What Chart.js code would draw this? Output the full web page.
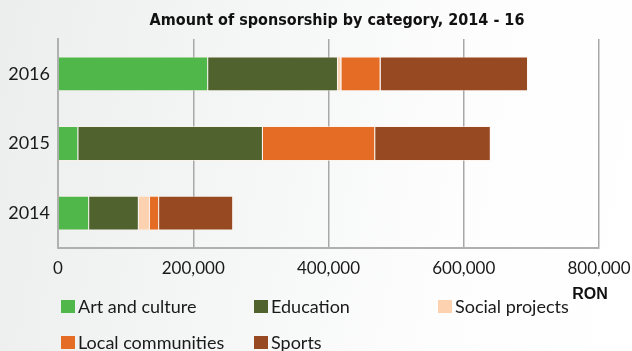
<!DOCTYPE html>
<html>
<head>
<meta charset="utf-8">
<script src="https://cdn.jsdelivr.net/npm/chart.js@4.4.1/dist/chart.umd.min.js"></script>
<style>
  html, body { margin: 0; padding: 0; }
  body {
    width: 632px; height: 351px; overflow: hidden; position: relative;
    background: linear-gradient(100deg, #eceeee 0%, #f4f5f5 35%, #fdfdfd 70%, #ffffff 100%);
    font-family: "Lato", "Liberation Sans", sans-serif;
    color: #1a1a1a;
  }
  #chart { position: absolute; left: 0; top: 0; }
  #title {
    position: absolute; left: 337px; top: 10px; transform: translateX(-50%);
    white-space: nowrap; font-family: "Liberation Sans Narrow", "DejaVu Sans Condensed", sans-serif;
    font-weight: bold; font-size: 16px; color: #111;
  }
  #unit {
    position: absolute; left: 590px; top: 285px; transform: translateX(-50%);
    font-family: "Liberation Sans", sans-serif; font-weight: bold; font-size: 16px; color: #111;
  }
  .item { position: absolute; white-space: nowrap; font-size: 18px; line-height: 20px; }
  .item .box { position: absolute; left: 0; top: 3px; width: 14px; height: 13px; }
  .item .lbl { position: absolute; left: 17px; top: -1px; }
</style>
</head>
<body>
<canvas id="chart" width="632" height="351"></canvas>
<div id="title">Amount of sponsorship by category, 2014 - 16</div>
<div id="unit">RON</div>
<div id="legend"></div>
<script>
// Sponsorship amounts in RON, per year (top row is 2016)
const years = ['2016', '2015', '2014'];
const artAndCulture    = [222000,  30000,  46000];
const education        = [192000, 273000,  73500];
const socialProjects   = [  5000,      0,  16500];
const localCommunities = [ 58000, 166000,  13500];
const sports           = [218000, 171000, 109500];
const xTicks = [0, 200000, 400000, 600000, 800000];

const categoryNames = ['Art and culture', 'Education', 'Social projects', 'Local communities', 'Sports'];
const categoryColors = ['#50b84a', '#50622d', '#fdd2b1', '#e46c25', '#974a22'];
const seriesValues = [artAndCulture, education, socialProjects, localCommunities, sports];

const datasets = categoryNames.map((name, i) => ({
  label: name,
  data: seriesValues[i],
  backgroundColor: categoryColors[i],
  borderColor: 'rgba(255,240,230,0.55)',
  borderWidth: 1,
  barPercentage: 0.5,
  categoryPercentage: 1.0
}));

const gridGray = '#a8a8a8';

const chart = new Chart(document.getElementById('chart'), {
  type: 'bar',
  data: { labels: years, datasets },
  options: {
    indexAxis: 'y',
    responsive: false,
    animation: false,
    layout: { padding: { top: 39, right: 33, bottom: 63, left: 0 } },
    plugins: { legend: { display: false }, tooltip: { enabled: false }, title: { display: false } },
    scales: {
      x: {
        stacked: true,
        min: 0,
        max: 800000,
        afterBuildTicks: s => { s.ticks = xTicks.map(v => ({ value: v })); },
        afterFit: s => { s.height = 40; s.paddingLeft = 0; s.paddingRight = 0; },
        ticks: {
          callback: v => v.toLocaleString('en-US'),
          font: { family: 'Lato, "Liberation Sans", sans-serif', size: 17 },
          color: '#1a1a1a',
          padding: 10,
          maxRotation: 0
        },
        grid: { color: gridGray, lineWidth: 1.5, drawTicks: false },
        border: { color: '#b0b0b0', width: 2 }
      },
      y: {
        stacked: true,
        afterFit: s => { s.width = 58; },
        ticks: {
          font: { family: 'Lato, "Liberation Sans", sans-serif', size: 18 },
          color: '#1a1a1a',
          padding: 8
        },
        grid: { display: false, drawTicks: false },
        border: { color: '#b0b0b0', width: 2 }
      }
    }
  }
});

// Legend laid out in columns, built from the chart's datasets
const legendSlots = [[61, 297], [254, 297], [438, 297], [61, 333], [254, 333]];
const legend = document.getElementById('legend');
chart.data.datasets.forEach((ds, i) => {
  const item = document.createElement('div');
  item.className = 'item';
  item.style.left = legendSlots[i][0] + 'px';
  item.style.top = legendSlots[i][1] + 'px';
  const box = document.createElement('span');
  box.className = 'box';
  box.style.background = ds.backgroundColor;
  const lbl = document.createElement('span');
  lbl.className = 'lbl';
  lbl.textContent = ds.label;
  item.appendChild(box);
  item.appendChild(lbl);
  legend.appendChild(item);
});
</script>
</body>
</html>
